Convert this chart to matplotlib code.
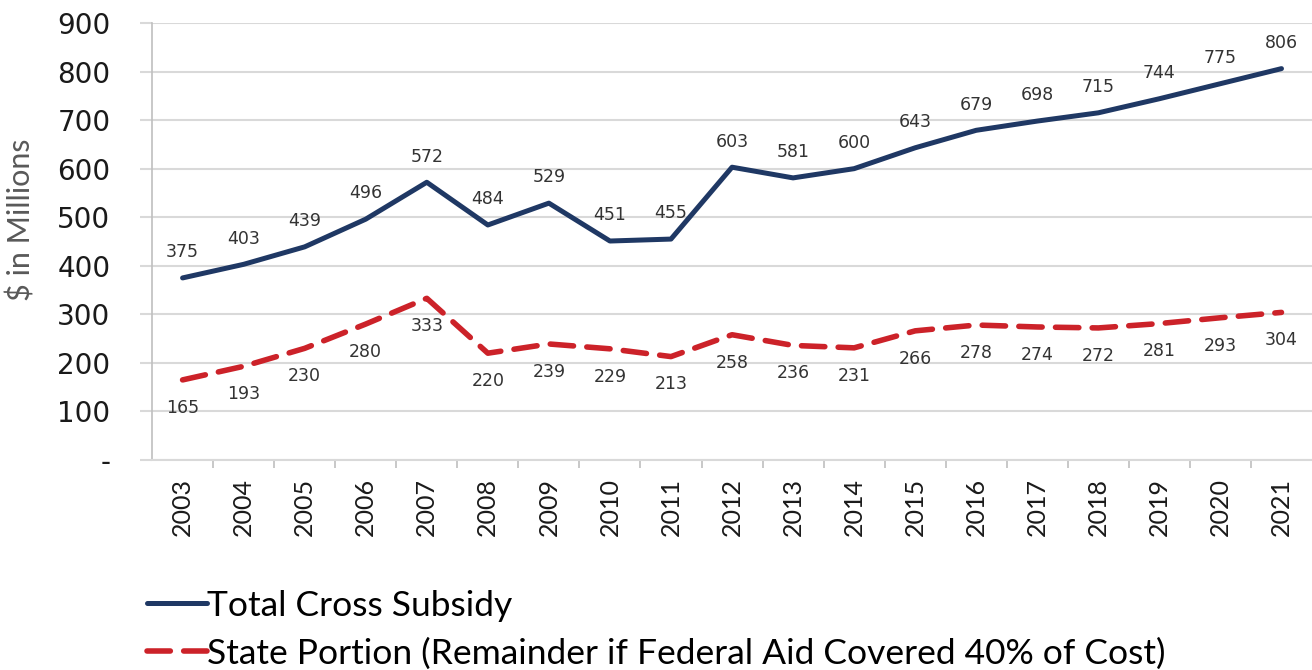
import matplotlib
matplotlib.use("Agg")
import matplotlib.pyplot as plt

years = [str(y) for y in range(2003, 2022)]
total_subsidy = [375, 403, 439, 496, 572, 484, 529, 451, 455, 603,
                 581, 600, 643, 679, 698, 715, 744, 775, 806]
state_portion = [165, 193, 230, 280, 333, 220, 239, 229, 213, 258,
                 236, 231, 266, 278, 274, 272, 281, 293, 304]
y_ticks = [0, 100, 200, 300, 400, 500, 600, 700, 800, 900]
y_ticklabels = ["-", "100", "200", "300", "400", "500", "600", "700", "800", "900"]

navy = "#1F3864"
red = "#CC2229"
grid = "#D9D9D9"

plt.rcParams["font.family"] = ["Lato", "DejaVu Sans"]

fig = plt.figure(figsize=(13.12, 6.7), dpi=100)
ax = fig.add_axes([0.1159, 0.3134, 0.8841, 0.6523])

x = list(range(len(years)))
ax.plot(x, total_subsidy, color=navy, lw=3.6, solid_capstyle="round",
        solid_joinstyle="round", label="Total Cross Subsidy", zorder=3)
ax.plot(x, state_portion, color=red, lw=4.0, linestyle=(0, (4.2, 2.4)),
        dash_capstyle="round", label="State Portion (Remainder if Federal Aid Covered 40% of Cost)",
        zorder=3)

for xi, v in zip(x, total_subsidy):
    ax.annotate(str(v), (xi, v), xytext=(0, 18.5), textcoords="offset points",
                ha="center", va="center", fontsize=12.5, color="#333333",
                family="DejaVu Sans")
for xi, v in zip(x, state_portion):
    ax.annotate(str(v), (xi, v), xytext=(0, -20), textcoords="offset points",
                ha="center", va="center", fontsize=12.5, color="#333333",
                family="DejaVu Sans")

ax.set_xlim(-0.5, len(years) - 0.5)
ax.set_ylim(0, 900)
ax.set_yticks(y_ticks)
ax.set_yticklabels(y_ticklabels, fontsize=20, color="#1a1a1a", family="DejaVu Sans")
ax.set_xticks(x)
ax.set_xticklabels(years, rotation=90, fontsize=18, color="#1a1a1a")
ax.tick_params(axis="x", length=0, pad=13)
ax.set_xticks([k + 0.5 for k in x[:-1]], minor=True)
ax.tick_params(axis="x", which="minor", length=6, color="#BFBFBF", width=1.2)
ax.tick_params(axis="y", length=9, color=grid, width=1.5, pad=21)

ax.grid(axis="y", color=grid, lw=1.5)
ax.set_axisbelow(True)
for s in ["top", "right"]:
    ax.spines[s].set_visible(False)
ax.spines["left"].set_color("#BFBFBF")
ax.spines["left"].set_linewidth(1.2)
ax.spines["bottom"].set_color(grid)
ax.spines["bottom"].set_linewidth(1.5)

ax.set_ylabel("$ in Millions", fontsize=22, color="#595959", va="center")
ax.yaxis.set_label_coords(-0.113, 0.55)

fig.legend(loc="upper left", bbox_to_anchor=(0.101, 0.141), frameon=False,
           fontsize=25.5, handlelength=1.7, handletextpad=0.0, labelspacing=0.44,
           borderaxespad=0)

fig.savefig("out.png", dpi=100)
